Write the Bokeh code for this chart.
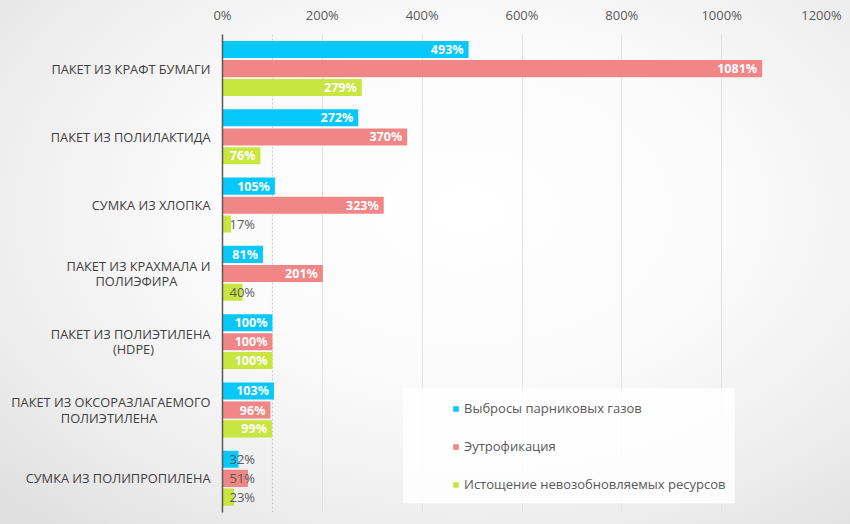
from bokeh.plotting import figure
from bokeh.models import (ColumnDataSource, Range1d, FixedTicker, LabelSet, Span,
                          BoxAnnotation, Legend, LegendItem, GlobalInlineStyleSheet)
from bokeh.core.properties import value
from bokeh.transform import dodge
from bokeh.embed import file_html
from bokeh.resources import INLINE

# ---- data ----
categories = [
    "ПАКЕТ ИЗ КРАФТ БУМАГИ",
    "ПАКЕТ ИЗ ПОЛИЛАКТИДА",
    "СУМКА ИЗ ХЛОПКА",
    "ПАКЕТ ИЗ КРАХМАЛА И\nПОЛИЭФИРА",
    "ПАКЕТ ИЗ ПОЛИЭТИЛЕНА\n(HDPE)",
    "ПАКЕТ ИЗ ОКСОРАЗЛАГАЕМОГО\nПОЛИЭТИЛЕНА",
    "СУМКА ИЗ ПОЛИПРОПИЛЕНА",
]
ghg = [493, 272, 105, 81, 100, 103, 32]
eutro = [1081, 370, 323, 201, 100, 96, 51]
resources = [279, 76, 17, 40, 100, 99, 23]
series_names = ["Выбросы парниковых газов", "Эутрофикация",
                "Истощение невозобновляемых ресурсов"]
x_ticks = [0, 200, 400, 600, 800, 1000, 1200]
x_tick_labels = ["0%", "200%", "400%", "600%", "800%", "1000%", "1200%"]

# ---- styles ----
colors = ["#06C8FA", "#F08686", "#C8E540"]
offsets = [-0.28, 0.0, 0.275]
BAR_H = 0.25
FONT = "Open Sans"
BOLD_FONT = "Noto Sans"
TXT = "#595959"
CAT_SIZE = "12.8px"
NBSP_W = 3.35

def est_width(s):
    """rough pixel width of an upper-case label at ~13px"""
    return sum(3.35 if ch == " " else 4.2 if ch in "()" else 8.2 for ch in s)

def centred(label):
    """centre the lines of a right-aligned multi-line label by padding"""
    lines = label.split("\n")
    if len(lines) == 1:
        return label
    w = max(est_width(l) for l in lines)
    out = []
    for l in lines:
        n = int(round((w - est_width(l)) / 2 / NBSP_W))
        out.append(l + "\u00a0" * n)
    return "\n".join(out)

css = """
html { height: 100%; background: radial-gradient(ellipse 75% 80% at 55% 40%, #ffffff 0%, #fbfbfb 40%, #eeeeee 75%, #e0e0e0 100%); }
body { margin: 1px 8px 8px 8px; background: transparent; }
"""

p = figure(width=834, height=515,
           x_range=Range1d(0, 1200), y_range=Range1d(6.5, -0.5),
           x_axis_location="above",
           output_backend="svg", toolbar_location=None,
           min_border_left=213, min_border_right=21,
           min_border_top=33, min_border_bottom=4)
p.stylesheets = [GlobalInlineStyleSheet(css=css)]
p.border_fill_color = None
p.background_fill_color = None
p.outline_line_color = None

idx = list(range(len(categories)))
src = ColumnDataSource(dict(y=idx, ghg=ghg, eutro=eutro, res=resources))

renderers = []
for col, c, off in zip(["ghg", "eutro", "res"], colors, offsets):
    r = p.hbar(y=dodge("y", off), right=col, left=0, height=BAR_H,
               source=src, fill_color=c, line_color=None)
    renderers.append(r)

# bar labels
ins = dict(x=[], y=[], text=[])
outs = dict(x=[], y=[], text=[])
for vals, off in zip([ghg, eutro, resources], offsets):
    for i, v in enumerate(vals):
        d = ins if v >= 70 else outs
        d["x"].append(v if v >= 70 else 0)
        d["y"].append(i + off)
        d["text"].append(f"{v}%")

p.add_layout(LabelSet(x="x", y="y", text="text", source=ColumnDataSource(ins),
                      text_align="right", text_baseline="middle", x_offset=-5,
                      text_color="white", text_font=value(BOLD_FONT),
                      text_font_style="bold", text_font_size="12.5px"))
p.add_layout(LabelSet(x="x", y="y", text="text", source=ColumnDataSource(outs),
                      text_align="left", text_baseline="middle", x_offset=7,
                      text_color=TXT, text_font=value(FONT),
                      text_font_size="13px"))

# 100% reference line
p.add_layout(Span(location=100, dimension="height", line_color="#c8c8c8",
                  line_dash="2 2", line_width=1, level="underlay"))

# axes
xa = p.xaxis[0]
xa.ticker = FixedTicker(ticks=x_ticks)
xa.major_label_overrides = {t: l for t, l in zip(x_ticks, x_tick_labels)}
xa.axis_line_color = None
xa.major_tick_line_color = None
xa.minor_tick_line_color = None
xa.major_tick_out = 0
xa.major_tick_in = 0
xa.minor_tick_out = 0
xa.major_label_text_font = FONT
xa.major_label_text_font_size = "13px"
xa.major_label_text_color = TXT
xa.major_label_standoff = 11

ya = p.yaxis[0]
ya.ticker = FixedTicker(ticks=idx)
ya.major_label_overrides = {i: centred(c) for i, c in zip(idx, categories)}
ya.axis_line_color = "#595959"
ya.axis_line_width = 1.5
ya.major_tick_line_color = None
ya.minor_tick_line_color = None
ya.major_tick_out = 0
ya.major_tick_in = 0
ya.minor_tick_out = 0
ya.major_label_standoff = 12
ya.major_label_text_font = FONT
ya.major_label_text_font_size = CAT_SIZE
ya.major_label_text_color = "#404040"
ya.major_label_text_line_height = 0.85

p.xgrid.ticker = FixedTicker(ticks=x_ticks)
p.xgrid.grid_line_color = "#e2e2e2"
p.xgrid.grid_line_width = 1
p.ygrid.grid_line_color = None

# legend box + legend
p.add_layout(BoxAnnotation(left=362, right=1026, top=4.68, bottom=6.37,
                           fill_color="white", fill_alpha=0.85, line_color=None))
legend = Legend(items=[LegendItem(label=n, renderers=[r])
                       for n, r in zip(series_names, renderers)],
                location=(230, 18), orientation="vertical",
                padding=0, margin=0, spacing=18, label_height=20,
                glyph_width=7, glyph_height=7, label_standoff=5,
                background_fill_alpha=0, border_line_alpha=0,
                label_text_font=FONT, label_text_font_size="13px",
                label_text_color=TXT)
p.add_layout(legend)

open("out.html", "w").write(file_html(p, INLINE))
